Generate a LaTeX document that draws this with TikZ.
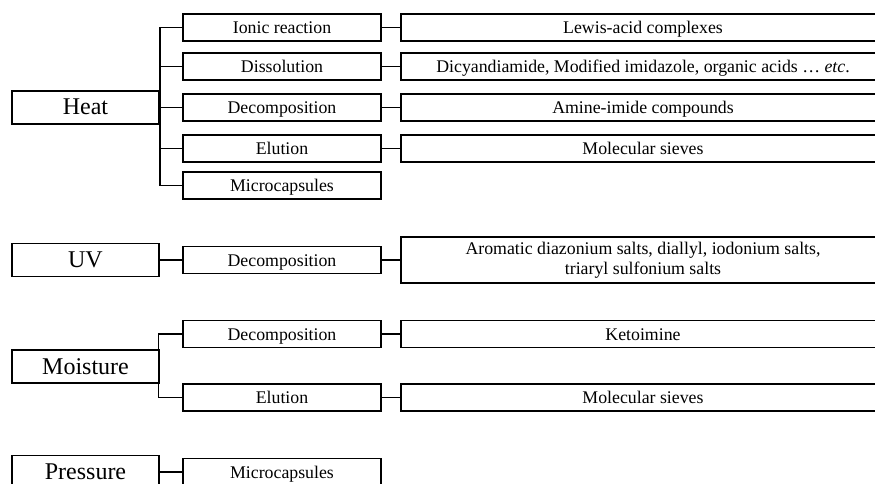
\documentclass[tikz,border=0pt]{standalone}
\usepackage{fontspec}
\setmainfont{Liberation Serif}
\begin{document}
\begin{tikzpicture}[x=1pt,y=-1pt,
  mainbox/.style={draw, line width=1.6pt, minimum width=147pt, minimum height=33pt, inner sep=0pt, text height=15pt, text depth=0pt, font=\fontsize{24}{27}\selectfont},
  midbox/.style={draw, line width=1.6pt, minimum width=198pt, minimum height=27pt, inner sep=0pt, text height=12pt, text depth=0pt, font=\fontsize{17.8}{20}\selectfont},
  rightbox/.style={draw, line width=1.6pt, minimum width=484pt, minimum height=27pt, inner sep=0pt, text height=12pt, text depth=0pt, font=\fontsize{17.8}{20}\selectfont},
  tallbox/.style={draw, line width=1.6pt, minimum width=484pt, minimum height=46pt, inner sep=0pt, align=center, font=\fontsize{17.8}{19.5}\selectfont},
  link/.style={line width=1.6pt}]
\path[use as bounding box, clip] (0,0) rectangle (875,484);
% Heat group
\node[mainbox] (heat) at (85.5,107.5) {Heat};
\node[midbox] (ion) at (282,27.5) {Ionic reaction};
\node[midbox] (dis) at (282,66.5) {Dissolution};
\node[midbox] (hdec) at (282,107.5) {Decomposition};
\node[midbox] (helu) at (282,148.5) {Elution};
\node[midbox] (hmic) at (282,185.5) {Microcapsules};
\node[rightbox] (lew) at (643,27.5) {Lewis-acid complexes};
\node[rightbox] (dicy) at (643,66.5) {Dicyandiamide, Modified imidazole, organic acids \ldots{} \textit{etc}.};
\node[rightbox] (amin) at (643,107.5) {Amine-imide compounds};
\node[rightbox] (hmol) at (643,148.5) {Molecular sieves};
\coordinate (ht) at (160,0);
\draw[link] (ion.west) -| (ht |- hmic.west) -- (hmic.west);
\draw[link] (dis.west) -- (dis.west -| ht);
\draw[link] (hdec.west) -- (hdec.west -| ht);
\draw[link] (helu.west) -- (helu.west -| ht);
\draw[link] (heat.east) -- (heat.east -| ht);
\draw[link] (ion.east) -- (lew.west);
\draw[link] (dis.east) -- (dicy.west);
\draw[link] (hdec.east) -- (amin.west);
\draw[link] (helu.east) -- (hmol.west);
% UV group
\node[mainbox] (uv) at (85.5,260) {UV};
\node[midbox] (udec) at (282,260) {Decomposition};
\node[tallbox] (arom) at (643,260) {Aromatic diazonium salts, diallyl, iodonium salts,\\ triaryl sulfonium salts};
\draw[link] (uv.east) -- (udec.west);
\draw[link] (udec.east) -- (arom.west);
% Moisture group
\node[mainbox] (moi) at (85.5,366.5) {Moisture};
\node[midbox] (mdec) at (282,334) {Decomposition};
\node[midbox] (melu) at (282,397.5) {Elution};
\node[rightbox] (keto) at (643,334) {Ketoimine};
\node[rightbox] (mmol) at (643,397.5) {Molecular sieves};
\coordinate (mt) at (158.5,0);
\draw[link] (mdec.west) -| (mt |- melu.west) -- (melu.west);
\draw[link] (mdec.east) -- (keto.west);
\draw[link] (melu.east) -- (mmol.west);
% Pressure group
\node[mainbox] (pre) at (85.5,472) {Pressure};
\node[midbox] (pmic) at (282,472) {Microcapsules};
\draw[link] (pre.east) -- (pmic.west);
\end{tikzpicture}
\end{document}
